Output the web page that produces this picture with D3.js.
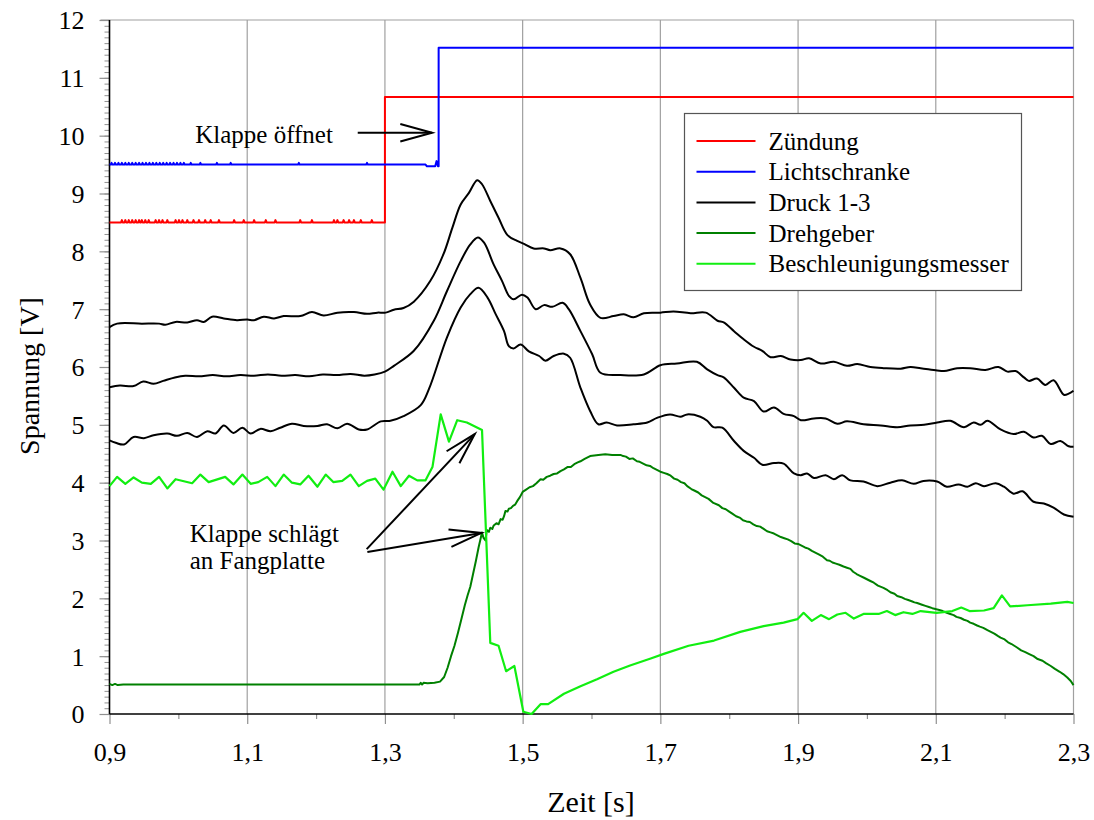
<!DOCTYPE html>
<html>
<head>
<meta charset="utf-8">
<script src="https://cdn.jsdelivr.net/npm/d3@7"></script>
<style>
  body { margin: 0; background: #fff; }
  svg text { font-family: 'Liberation Serif', 'Times New Roman', Times, serif !important; fill: #000; }
</style>
</head>
<body>
<svg id="chart" width="1094" height="820" font-family="Liberation Serif"></svg>
<script>
// ---- axis ticks ----
const xMajorTicks = [0.9, 1.1, 1.3, 1.5, 1.7, 1.9, 2.1, 2.3];
const xMinorTicks = [1.0, 1.2, 1.4, 1.6, 1.8, 2.0, 2.2];
const yMajorTicks = [0, 1, 2, 3, 4, 5, 6, 7, 8, 9, 10, 11, 12];

// ---- Zündung (ignition): low level with short glitches, step at ignition ----
const zuendungLow = 8.5, zuendungHigh = 10.67, zuendungGlitch = 8.54, zuendungStepTime = 1.3;
const zuendungGlitchTimes = [0.918, 0.923, 0.928, 0.933, 0.938, 0.943, 0.947, 0.952, 0.957, 0.967,
  0.972, 0.977, 0.984, 0.996, 1.001, 1.006, 1.013, 1.022, 1.030, 1.039, 1.047, 1.059, 1.081,
  1.095, 1.110, 1.127, 1.141, 1.177, 1.194, 1.226, 1.231, 1.240, 1.248, 1.255, 1.265, 1.281];

// ---- Lichtschranke (light barrier) ----
const lichtLow = 9.5, lichtHigh = 11.52, lichtGlitch = 9.53;
const lichtGlitchTimes = [0.903, 0.908, 0.913, 0.918, 0.923, 0.928, 0.933, 0.938, 0.943, 0.948,
  0.953, 0.958, 0.963, 0.968, 0.973, 0.978, 0.983, 0.988, 0.993, 0.998, 1.003, 1.008, 1.018,
  1.032, 1.056, 1.076, 1.175, 1.274];
const lichtEdgeT = [1.359, 1.361, 1.373, 1.375, 1.377, 1.378, 1.378, 2.3];
const lichtEdgeV = [9.5, 9.47, 9.47, 9.56, 9.47, 9.47, 11.52, 11.52];

// ---- Druck 1 (upper pressure trace) ----
const druck1T = [0.9, 0.911, 0.947, 0.972, 0.981, 0.996, 1.013, 1.027, 1.037, 1.049, 1.066, 1.085,
  1.100, 1.110, 1.124, 1.139, 1.153, 1.177, 1.194, 1.211, 1.231, 1.255, 1.274, 1.289, 1.301,
  1.313, 1.327, 1.342, 1.366, 1.385, 1.398, 1.410, 1.422, 1.434, 1.441, 1.453, 1.465, 1.478,
  1.492, 1.502, 1.516, 1.531, 1.540, 1.555, 1.569, 1.584, 1.598, 1.613, 1.632, 1.647, 1.661,
  1.676, 1.700, 1.719, 1.744, 1.766, 1.783, 1.792, 1.807, 1.821, 1.836, 1.848, 1.860, 1.875,
  1.889, 1.904, 1.916, 1.933, 1.952, 1.971, 1.986, 2.005, 2.024, 2.049, 2.063, 2.078, 2.102,
  2.112, 2.131, 2.150, 2.172, 2.191, 2.204, 2.216, 2.228, 2.235, 2.247, 2.259, 2.271, 2.286,
  2.293, 2.3];
const druck1V = [6.69, 6.75, 6.75, 6.75, 6.73, 6.78, 6.77, 6.81, 6.78, 6.87, 6.84, 6.81,
  6.82, 6.81, 6.87, 6.84, 6.88, 6.88, 6.95, 6.89, 6.94, 6.95, 6.92, 6.94, 6.94,
  6.99, 7.02, 7.13, 7.49, 7.95, 8.41, 8.81, 9.01, 9.23, 9.16, 8.87, 8.58, 8.28,
  8.18, 8.13, 8.05, 8.05, 8.02, 8.05, 7.95, 7.54, 7.08, 6.85, 6.88, 6.91, 6.86,
  6.93, 6.94, 6.96, 6.93, 6.94, 6.80, 6.77, 6.62, 6.48, 6.35, 6.28, 6.17, 6.19,
  6.13, 6.12, 6.15, 6.06, 6.09, 6.02, 6.05, 6.00, 5.98, 5.97, 6.00, 5.98, 5.94,
  5.93, 5.98, 5.98, 5.95, 6.00, 5.92, 5.93, 5.82, 5.76, 5.80, 5.69, 5.77, 5.52,
  5.54, 5.59];

// ---- Druck 2 (middle pressure trace) ----
const druck2T = [0.9, 0.915, 0.935, 0.949, 0.964, 0.978, 0.995, 1.01, 1.03, 1.05, 1.07, 1.09,
  1.11, 1.13, 1.15, 1.17, 1.19, 1.21, 1.23, 1.25, 1.27, 1.285, 1.3, 1.313, 1.342, 1.371,
  1.390, 1.410, 1.424, 1.435, 1.444, 1.458, 1.470, 1.480, 1.487, 1.499, 1.507, 1.519, 1.531,
  1.543, 1.558, 1.567, 1.584, 1.601, 1.613, 1.642, 1.676, 1.700, 1.724, 1.753, 1.768, 1.783,
  1.792, 1.807, 1.821, 1.836, 1.850, 1.865, 1.879, 1.894, 1.904, 1.923, 1.940, 1.957, 1.971,
  1.995, 2.020, 2.044, 2.063, 2.083, 2.102, 2.121, 2.141, 2.155, 2.165, 2.175, 2.194, 2.213,
  2.228, 2.242, 2.254, 2.267, 2.281, 2.293, 2.3];
const druck2V = [5.65, 5.68, 5.67, 5.75, 5.71, 5.76, 5.82, 5.85, 5.84, 5.86, 5.84, 5.86,
  5.85, 5.87, 5.85, 5.86, 5.84, 5.87, 5.86, 5.88, 5.85, 5.87, 5.92, 6.02, 6.28, 6.80,
  7.31, 7.83, 8.12, 8.24, 8.15, 7.77, 7.49, 7.23, 7.17, 7.25, 7.20, 7.00, 7.07,
  7.04, 7.11, 7.00, 6.62, 6.22, 5.90, 5.86, 5.87, 6.03, 6.06, 6.09, 5.96, 5.86,
  5.82, 5.64, 5.47, 5.41, 5.23, 5.30, 5.19, 5.15, 5.08, 5.11, 5.11, 5.02, 5.06,
  5.01, 4.99, 4.96, 4.99, 5.00, 5.04, 5.07, 4.96, 5.04, 5.00, 5.07, 4.92, 4.84,
  4.88, 4.78, 4.81, 4.67, 4.72, 4.63, 4.62];

// ---- Druck 3 (lower pressure trace) ----
const druck3T = [0.9, 0.909, 0.921, 0.935, 0.950, 0.964, 0.984, 0.998, 1.013, 1.027, 1.042, 1.054,
  1.066, 1.080, 1.093, 1.105, 1.119, 1.134, 1.148, 1.165, 1.182, 1.202, 1.216, 1.231, 1.245,
  1.262, 1.274, 1.294, 1.308, 1.327, 1.352, 1.364, 1.390, 1.410, 1.424, 1.436, 1.449, 1.461,
  1.473, 1.480, 1.487, 1.497, 1.509, 1.524, 1.533, 1.545, 1.560, 1.569, 1.584, 1.598, 1.610,
  1.622, 1.637, 1.661, 1.681, 1.695, 1.714, 1.729, 1.739, 1.758, 1.768, 1.777, 1.790, 1.807,
  1.821, 1.836, 1.848, 1.865, 1.879, 1.894, 1.904, 1.913, 1.923, 1.940, 1.952, 1.964, 1.976,
  1.995, 2.015, 2.034, 2.051, 2.068, 2.082, 2.102, 2.116, 2.133, 2.146, 2.158, 2.170, 2.187,
  2.199, 2.213, 2.226, 2.242, 2.257, 2.271, 2.286, 2.3];
const druck3V = [4.73, 4.69, 4.66, 4.79, 4.77, 4.82, 4.85, 4.81, 4.86, 4.79, 4.89, 4.85,
  4.99, 4.86, 4.95, 4.85, 4.93, 4.89, 4.95, 5.02, 4.98, 4.98, 5.01, 4.94, 5.02,
  4.92, 4.92, 5.06, 5.07, 5.15, 5.34, 5.62, 6.51, 7.03, 7.26, 7.37, 7.20, 6.91,
  6.62, 6.36, 6.32, 6.39, 6.27, 6.19, 6.11, 6.19, 6.23, 6.16, 5.64, 5.24, 5.01,
  5.04, 4.99, 5.01, 5.04, 5.12, 5.18, 5.14, 5.18, 5.14, 5.07, 4.96, 4.95, 4.72,
  4.55, 4.43, 4.31, 4.34, 4.33, 4.16, 4.13, 4.16, 4.08, 4.13, 4.06, 4.13, 4.04,
  4.02, 3.94, 4.00, 4.04, 3.98, 4.03, 4.02, 3.93, 3.97, 3.93, 3.99, 3.94, 3.99,
  3.93, 3.81, 3.85, 3.67, 3.64, 3.57, 3.45, 3.41];

// ---- Drehgeber (rotary encoder), sampled densely enough to keep its jitter ----
const drehT = [0.9, 0.904, 0.908, 0.912, 0.92, 1.0, 1.1, 1.2, 1.3, 1.35, 1.352, 1.354, 1.356, 1.362,
  1.372, 1.38, 1.386, 1.391, 1.396, 1.401, 1.406, 1.411, 1.416, 1.42, 1.424, 1.428, 1.432,
  1.436, 1.441, 1.443, 1.446, 1.448, 1.451, 1.453, 1.456, 1.458, 1.462, 1.465, 1.468, 1.471,
  1.473, 1.475, 1.478, 1.48, 1.483, 1.486, 1.489, 1.492, 1.496, 1.5, 1.505, 1.51, 1.515, 1.52,
  1.526, 1.53, 1.535, 1.54, 1.545, 1.55, 1.555, 1.56, 1.565, 1.57, 1.575, 1.58, 1.584, 1.59,
  1.598, 1.61, 1.62, 1.63, 1.642, 1.646, 1.65, 1.655, 1.66, 1.666, 1.67, 1.675, 1.68, 1.685,
  1.69, 1.695, 1.7, 1.705, 1.71, 1.715, 1.72, 1.725, 1.73, 1.735, 1.739, 1.745, 1.75, 1.755,
  1.76, 1.765, 1.77, 1.777, 1.785, 1.79, 1.795, 1.8, 1.805, 1.81, 1.816, 1.82, 1.825, 1.83,
  1.835, 1.84, 1.845, 1.85, 1.855, 1.86, 1.865, 1.87, 1.875, 1.88, 1.885, 1.89, 1.895, 1.9,
  1.905, 1.91, 1.915, 1.92, 1.925, 1.93, 1.936, 1.942, 1.946, 1.95, 1.955, 1.96, 1.966, 1.971,
  1.976, 1.98, 1.985, 1.99, 1.995, 2.0, 2.005, 2.01, 2.016, 2.024, 2.03, 2.035, 2.04, 2.044,
  2.05, 2.055, 2.06, 2.065, 2.069, 2.073, 2.08, 2.085, 2.09, 2.095, 2.101, 2.105, 2.11, 2.116,
  2.121, 2.126, 2.13, 2.136, 2.141, 2.146, 2.15, 2.155, 2.16, 2.164, 2.169, 2.175, 2.18, 2.185,
  2.19, 2.194, 2.2, 2.205, 2.21, 2.214, 2.218, 2.224, 2.23, 2.235, 2.242, 2.248, 2.255, 2.26,
  2.267, 2.273, 2.28, 2.285, 2.291, 2.296, 2.3];
const drehV = [0.52, 0.5, 0.52, 0.5, 0.51, 0.51, 0.51, 0.51, 0.51, 0.51, 0.54, 0.51, 0.54, 0.53,
  0.54, 0.56, 0.64, 0.8, 1.0, 1.18, 1.4, 1.64, 1.88, 2.05, 2.2, 2.42, 2.64,
  2.88, 3.14, 3.05, 3.0, 3.18, 3.15, 3.22, 3.2, 3.26, 3.3, 3.28, 3.37, 3.36,
  3.42, 3.51, 3.5, 3.55, 3.56, 3.6, 3.62, 3.68, 3.75, 3.84, 3.88, 3.92, 3.94, 3.99,
  4.06, 4.05, 4.1, 4.12, 4.15, 4.16, 4.2, 4.23, 4.27, 4.27, 4.32, 4.35, 4.37, 4.41,
  4.46, 4.48, 4.49, 4.48, 4.48, 4.46, 4.45, 4.41, 4.42, 4.37, 4.36, 4.33, 4.3, 4.29,
  4.25, 4.22, 4.19, 4.17, 4.15, 4.12, 4.07, 4.05, 4.01, 3.99, 3.94, 3.89, 3.86, 3.83,
  3.78, 3.75, 3.72, 3.65, 3.61, 3.56, 3.54, 3.5, 3.46, 3.42, 3.39, 3.35, 3.33, 3.32,
  3.28, 3.25, 3.24, 3.2, 3.16, 3.14, 3.12, 3.09, 3.06, 3.04, 3.02, 2.99, 2.95, 2.94,
  2.91, 2.88, 2.86, 2.82, 2.79, 2.76, 2.72, 2.66, 2.65, 2.62, 2.6, 2.58, 2.55, 2.53,
  2.51, 2.46, 2.42, 2.39, 2.36, 2.33, 2.3, 2.27, 2.22, 2.18, 2.14, 2.1, 2.08, 2.04,
  2.02, 1.99, 1.97, 1.95, 1.93, 1.92, 1.89, 1.87, 1.85, 1.83, 1.81, 1.8, 1.78, 1.75,
  1.73, 1.71, 1.68, 1.66, 1.63, 1.61, 1.58, 1.56, 1.53, 1.51, 1.49, 1.45, 1.42, 1.39,
  1.35, 1.32, 1.29, 1.24, 1.21, 1.18, 1.15, 1.1, 1.07, 1.04, 1.0, 0.95, 0.92, 0.88,
  0.83, 0.78, 0.73, 0.69, 0.63, 0.57, 0.5];

// ---- Beschleunigungsmesser (accelerometer) ----
const beschlT = [0.9, 0.911, 0.923, 0.935, 0.947, 0.960, 0.972, 0.984, 0.996, 1.020, 1.032, 1.044,
  1.068, 1.080, 1.093, 1.105, 1.116, 1.129, 1.141, 1.153, 1.165, 1.177, 1.189, 1.202, 1.214,
  1.225, 1.238, 1.250, 1.262, 1.274, 1.286, 1.298, 1.311, 1.323, 1.335, 1.347, 1.359, 1.369,
  1.381, 1.393, 1.405, 1.419, 1.441, 1.453, 1.465, 1.476, 1.488, 1.501, 1.513, 1.526, 1.537,
  1.560, 1.584, 1.608, 1.632, 1.656, 1.686, 1.705, 1.741, 1.778, 1.816, 1.850, 1.879, 1.899,
  1.908, 1.920, 1.933, 1.945, 1.957, 1.969, 1.981, 1.995, 2.017, 2.029, 2.041, 2.053, 2.066,
  2.078, 2.101, 2.124, 2.137, 2.149, 2.170, 2.184, 2.196, 2.208, 2.233, 2.267, 2.291, 2.3];
const beschlV = [3.94, 4.10, 3.98, 4.09, 4.00, 3.98, 4.10, 3.90, 4.06, 3.99, 4.14, 4.01,
  4.10, 3.97, 4.14, 3.98, 4.01, 4.10, 3.94, 4.14, 4.00, 3.97, 4.12, 3.93, 4.14,
  4.01, 4.03, 4.14, 3.94, 4.03, 4.07, 3.88, 4.19, 3.94, 4.12, 4.04, 4.04, 4.27,
  5.18, 4.71, 5.08, 5.04, 4.91, 1.23, 1.18, 0.74, 0.83, 0.04, 0.00, 0.17, 0.17,
  0.35, 0.48, 0.60, 0.73, 0.84, 0.96, 1.04, 1.18, 1.27, 1.42, 1.52, 1.58, 1.64,
  1.75, 1.61, 1.71, 1.64, 1.72, 1.75, 1.65, 1.73, 1.73, 1.78, 1.71, 1.76, 1.73,
  1.78, 1.75, 1.78, 1.84, 1.78, 1.79, 1.83, 2.05, 1.86, 1.88, 1.91, 1.94, 1.92];

// ---- legend entries ----
const legendLabels = ["Zündung", "Lichtschranke", "Druck 1-3", "Drehgeber", "Beschleunigungsmesser"];
const legendColors = ["#ff0000", "#0000ff", "#000000", "#008000", "#11ee11"];

// ---- layout ----
const SERIF = "'Liberation Serif', 'Times New Roman', Times, serif";
const plot = { left: 109.5, right: 1073.5, top: 20, bottom: 714 };
const svg = d3.select("#chart");

const x = d3.scaleLinear().domain([0.9, 2.3]).range([plot.left, plot.right]);
const y = d3.scaleLinear().domain([0, 12]).range([plot.bottom, plot.top]);
const fmt = v => d3.format(".1f")(v).replace(".", ",");

const zip = (ts, vs) => ts.map((t, i) => [t, vs[i]]);

function glitchTrace(low, glitch, times, endT) {
  const pts = [[0.9, low]];
  times.forEach(t => { pts.push([t - 0.0012, low], [t, glitch], [t + 0.0012, low]); });
  pts.push([endT, low]);
  return pts;
}

const zuendung = glitchTrace(zuendungLow, zuendungGlitch, zuendungGlitchTimes, zuendungStepTime)
  .concat([[zuendungStepTime, zuendungHigh], [2.3, zuendungHigh]]);
const licht = glitchTrace(lichtLow, lichtGlitch, lichtGlitchTimes, 1.30)
  .concat(zip(lichtEdgeT, lichtEdgeV));

// ---- vertical grid lines ----
svg.append("g").selectAll("line").data(xMajorTicks.slice(1)).join("line")
  .attr("x1", d => x(d)).attr("x2", d => x(d))
  .attr("y1", plot.top).attr("y2", plot.bottom)
  .attr("stroke", "#a0a0a0").attr("stroke-width", 1.2);

// top border
svg.append("line").attr("x1", plot.left - 9).attr("x2", plot.right)
  .attr("y1", plot.top).attr("y2", plot.top)
  .attr("stroke", "#a0a0a0").attr("stroke-width", 1.2);

// ---- y axis ----
const yMinor = d3.axisLeft(y).tickValues(d3.range(0, 120).map(i => i / 10)).tickSize(5).tickFormat("");
const gyMinor = svg.append("g").attr("transform", `translate(${plot.left},0)`).call(yMinor);
gyMinor.select(".domain").remove();
gyMinor.selectAll(".tick line").attr("stroke", "#909090");

const yAxis = d3.axisLeft(y).tickValues(yMajorTicks).tickSize(10).tickPadding(15).tickFormat(d3.format("d"));
const gy = svg.append("g").attr("transform", `translate(${plot.left},0)`).call(yAxis)
  .attr("font-family", SERIF);
gy.select(".domain").remove();
gy.selectAll(".tick line").attr("stroke", "#909090").attr("stroke-width", 1.2);
gy.selectAll(".tick text").attr("font-size", 26).style("font-family", SERIF).attr("dy", "0.34em");

// ---- x axis ----
const xMinor = d3.axisBottom(x).tickValues(xMinorTicks).tickSize(5).tickFormat("");
const gxMinor = svg.append("g").attr("transform", `translate(0,${plot.bottom})`).call(xMinor);
gxMinor.select(".domain").remove();
gxMinor.selectAll(".tick line").attr("stroke", "#909090").attr("stroke-width", 1.2);

const xAxis = d3.axisBottom(x).tickValues(xMajorTicks).tickSize(10).tickPadding(19).tickFormat(fmt);
const gx = svg.append("g").attr("transform", `translate(0,${plot.bottom})`).call(xAxis)
  .attr("font-family", SERIF);
gx.select(".domain").remove();
gx.selectAll(".tick line").attr("stroke", "#909090").attr("stroke-width", 1.2);
gx.selectAll(".tick text").attr("font-size", 26).style("font-family", SERIF);

// axis lines
svg.append("line").attr("x1", plot.left).attr("x2", plot.left)
  .attr("y1", plot.top).attr("y2", plot.bottom).attr("stroke", "#000").attr("stroke-width", 1.6);
svg.append("line").attr("x1", plot.left).attr("x2", plot.right)
  .attr("y1", plot.bottom).attr("y2", plot.bottom).attr("stroke", "#000").attr("stroke-width", 1.6);

// axis titles
svg.append("text").attr("x", 591).attr("y", 812).attr("text-anchor", "middle")
  .attr("font-size", 30).style("font-family", SERIF).text("Zeit [s]");
svg.append("text").attr("transform", "translate(39,376) rotate(-90)").attr("text-anchor", "middle")
  .attr("font-size", 28).style("font-family", SERIF).text("Spannung [V]");

// ---- traces ----
const linear = d3.line().x(d => x(d[0])).y(d => y(d[1]));
const smooth = d3.line().x(d => x(d[0])).y(d => y(d[1])).curve(d3.curveCatmullRom.alpha(0.5));

const traces = svg.append("g").attr("fill", "none").attr("stroke-linejoin", "round");
[[druck1T, druck1V], [druck2T, druck2V], [druck3T, druck3V]].forEach(([t, v]) => {
  traces.append("path").datum(zip(t, v)).attr("d", smooth)
    .attr("stroke", "#000").attr("stroke-width", 2);
});
traces.append("path").datum(zip(drehT, drehV)).attr("d", linear)
  .attr("stroke", legendColors[3]).attr("stroke-width", 2);
traces.append("path").datum(zip(beschlT, beschlV)).attr("d", linear)
  .attr("stroke", legendColors[4]).attr("stroke-width", 2.2);
traces.append("path").datum(zuendung).attr("d", linear)
  .attr("stroke", legendColors[0]).attr("stroke-width", 2);
traces.append("path").datum(licht).attr("d", linear)
  .attr("stroke", legendColors[1]).attr("stroke-width", 2);

// ---- annotations ----
function arrow(from, to) {
  const [x1, y1] = [x(from[0]), y(from[1])];
  const [x2, y2] = [x(to[0]), y(to[1])];
  const a = Math.atan2(y2 - y1, x2 - x1);
  const len = 33, spread = 0.27;
  const g = svg.append("g").attr("stroke", "#000").attr("stroke-width", 2).attr("fill", "none");
  g.append("line").attr("x1", x1).attr("y1", y1).attr("x2", x2).attr("y2", y2);
  g.append("path").attr("d",
    `M${x2 - len * Math.cos(a - spread)},${y2 - len * Math.sin(a - spread)}L${x2},${y2}` +
    `L${x2 - len * Math.cos(a + spread)},${y2 - len * Math.sin(a + spread)}`);
}

svg.append("text").attr("x", x(1.0245)).attr("y", y(9.88)).attr("font-size", 25)
  .style("font-family", SERIF).text("Klappe öffnet");
arrow([1.2605, 10.05], [1.3685, 10.05]);

const note = svg.append("text").attr("font-size", 25).style("font-family", SERIF);
note.append("tspan").attr("x", x(1.0165)).attr("y", y(2.98)).text("Klappe schlägt");
note.append("tspan").attr("x", x(1.0165)).attr("y", y(2.5)).text("an Fangplatte");
arrow([1.2735, 2.85], [1.4305, 4.84]);
arrow([1.2745, 2.80], [1.4400, 3.13]);

// ---- legend ----
const lg = svg.append("g").attr("transform", "translate(684.5,113.5)");
lg.append("rect").attr("width", 337).attr("height", 177)
  .attr("fill", "#fff").attr("stroke", "#555").attr("stroke-width", 1.2);
legendLabels.forEach((lab, i) => {
  const cy = 27.5 + i * 30.7;
  lg.append("line").attr("x1", 12).attr("x2", 71).attr("y1", cy).attr("y2", cy)
    .attr("stroke", legendColors[i]).attr("stroke-width", 2);
  lg.append("text").attr("x", 84).attr("y", cy + 8.5).attr("font-size", 25)
    .style("font-family", SERIF).text(lab);
});
</script>
</body>
</html>
